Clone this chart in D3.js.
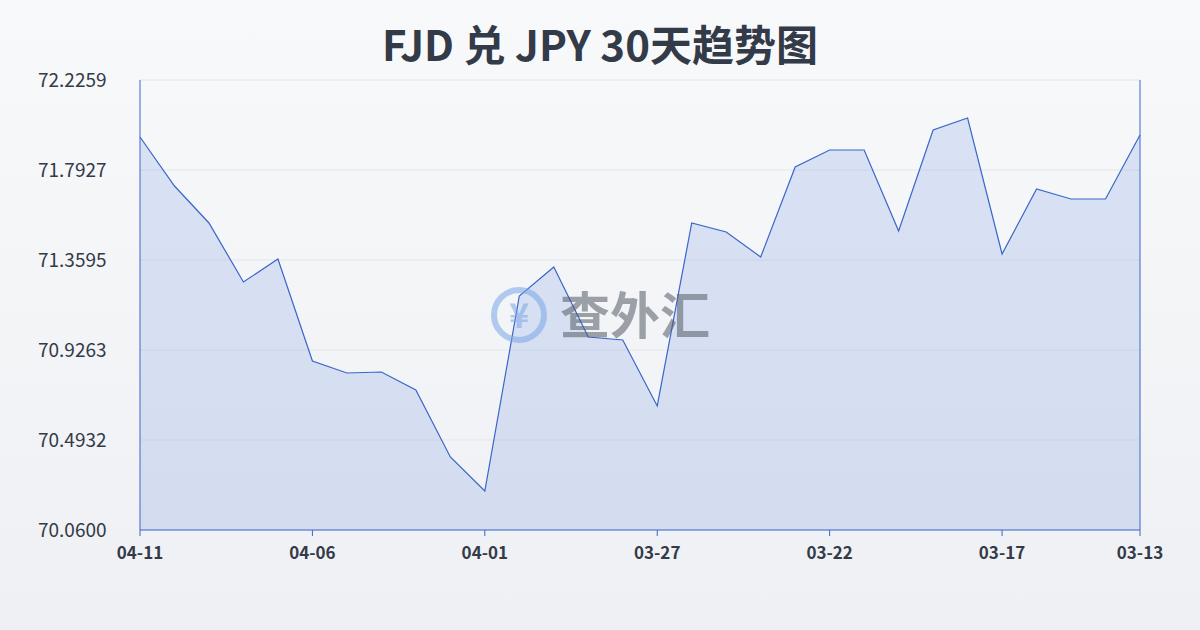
<html>
<head>
<meta charset="utf-8">
<style>
  body { margin:0; background: linear-gradient(#f8f9fb, #eef0f3); font-family: "Noto Sans CJK SC", "Noto Sans", sans-serif; }
  svg { display:block; }
</style>
</head>
<body>
<svg id="chart" width="1200" height="630"></svg>
<script src="https://cdn.jsdelivr.net/npm/d3@7/dist/d3.min.js"></script>
<script>
const dates = ["04-11","04-10","04-09","04-08","04-07","04-06","04-05","04-04","04-03","04-02",
               "04-01","03-31","03-30","03-29","03-28","03-27","03-26","03-25","03-24","03-23",
               "03-22","03-21","03-20","03-19","03-18","03-17","03-16","03-15","03-14","03-13"];
const rates = [71.9516,71.7157,71.5377,71.2537,71.3644,70.8735,70.8157,70.8205,70.7339,70.4114,
               70.2478,71.1863,71.3259,70.9890,70.9745,70.6569,71.5377,71.4943,71.3740,71.8072,
               71.8890,71.8890,71.4991,71.9852,72.0430,71.3884,71.7013,71.6532,71.6532,71.9612];
const yTicks = [70.0600,70.4932,70.9263,71.3595,71.7927,72.2259];
const xLabels = ["04-11","04-06","04-01","03-27","03-22","03-17","03-13"];

const svg = d3.select("#chart");
const mLeft = 140, mRight = 1140, mTop = 80, mBottom = 530;
const x = d3.scalePoint().domain(dates).range([mLeft, mRight]);
const y = d3.scaleLinear().domain([70.06, 72.2259]).range([mBottom, mTop]);

svg.append("text").attr("x", 600).attr("y", 61).attr("text-anchor", "middle")
  .attr("font-size", 42).attr("font-weight", "bold").attr("fill", "#333a48")
  .text("FJD 兑 JPY 30天趋势图");

// grid
svg.append("g").selectAll("line").data(yTicks).join("line")
  .attr("x1", mLeft).attr("x2", mRight).attr("y1", d => y(d)).attr("y2", d => y(d))
  .attr("stroke", "#e3e6ea").attr("stroke-width", 1);

svg.append("g").selectAll("text").data(yTicks).join("text")
  .attr("x", 38).attr("y", d => y(d) + 7).attr("font-size", 19).attr("fill", "#333a48")
  .text(d => d.toFixed(4));

// area + line
svg.append("path").datum(rates)
  .attr("d", d3.area().x((d, i) => x(dates[i])).y0(mBottom).y1(d => y(d)))
  .attr("fill", "rgba(90,130,220,0.18)");
svg.append("path").datum(rates)
  .attr("d", d3.line().x((d, i) => x(dates[i])).y(d => y(d)))
  .attr("fill", "none").attr("stroke", "#3a66c8").attr("stroke-width", 1.2);

// axes lines
svg.append("line").attr("x1", mLeft).attr("x2", mLeft).attr("y1", mTop).attr("y2", mBottom).attr("stroke", "#3a66c8");
svg.append("line").attr("x1", mRight).attr("x2", mRight).attr("y1", mTop).attr("y2", mBottom).attr("stroke", "#3a66c8");
svg.append("line").attr("x1", mLeft).attr("x2", mRight).attr("y1", mBottom).attr("y2", mBottom).attr("stroke", "#3a66c8");

svg.append("g").selectAll("line").data(xLabels).join("line")
  .attr("x1", d => x(d)).attr("x2", d => x(d)).attr("y1", mBottom).attr("y2", mBottom + 6)
  .attr("stroke", "#3a66c8");
svg.append("g").selectAll("text").data(xLabels).join("text")
  .attr("x", d => x(d)).attr("y", 559).attr("text-anchor", "middle")
  .attr("font-size", 17).attr("font-weight", "bold").attr("fill", "#333a48")
  .text(d => d);

// watermark
const wm = svg.append("g").attr("opacity", 0.55);
wm.append("circle").attr("cx", 519).attr("cy", 315).attr("r", 25)
  .attr("fill", "none").attr("stroke", "#7aa6e8").attr("stroke-width", 6);
wm.append("text").attr("x", 519).attr("y", 328).attr("text-anchor", "middle")
  .attr("font-size", 34).attr("font-weight", "bold").attr("fill", "#7aa6e8").text("¥");
wm.append("text").attr("x", 560).attr("y", 334).attr("font-size", 50).attr("font-weight", "bold")
  .attr("fill", "#555b66").text("查外汇");
</script>
</body>
</html>
